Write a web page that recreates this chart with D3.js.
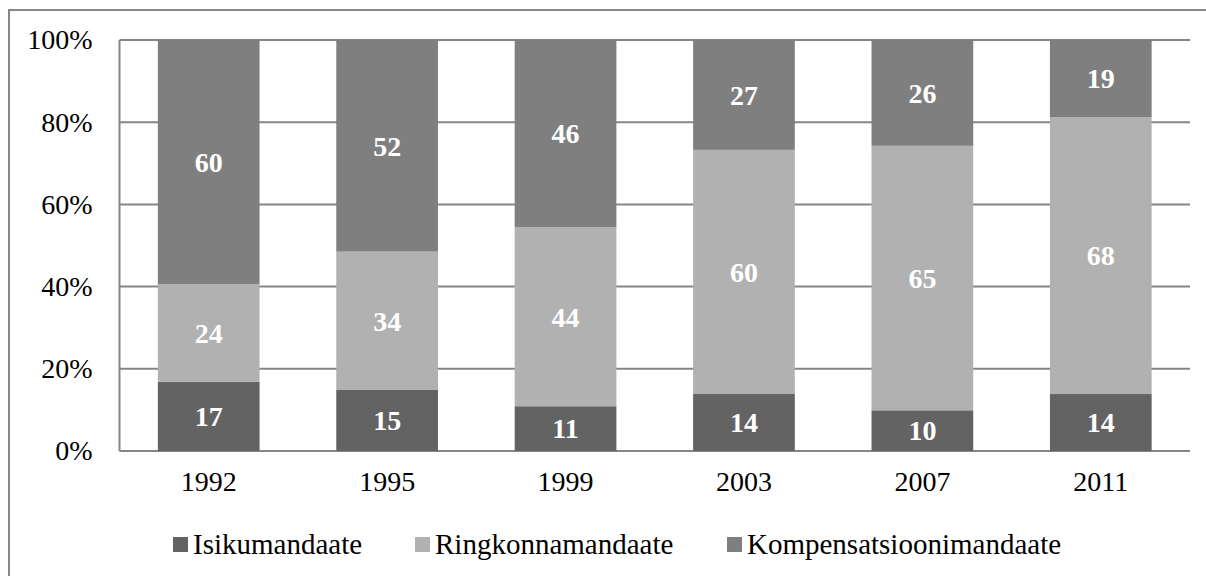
<!DOCTYPE html>
<html>
<head>
<meta charset="utf-8">
<script src="https://cdn.jsdelivr.net/npm/d3@7"></script>
<style>
  body { margin: 0; background: #fff; }
  svg text { font-family: "Liberation Serif", "Times New Roman", serif; }
</style>
</head>
<body>
<div id="chart"></div>
<script>
// chart data
var years = ["1992", "1995", "1999", "2003", "2007", "2011"];
var seriesNames = ["Isikumandaate", "Ringkonnamandaate", "Kompensatsioonimandaate"];
var isikumandaate = [17, 15, 11, 14, 10, 14];
var ringkonnamandaate = [24, 34, 44, 60, 65, 68];
var kompensatsioonimandaate = [60, 52, 46, 27, 26, 19];
var yTicks = [0, 0.2, 0.4, 0.6, 0.8, 1];

var colors = ["#636363", "#b1b1b1", "#7f7f7f"];
var gridColor = "#868686";

var width = 1206;
var height = 576;
var plot = { left: 119.5, right: 1190, top: 40, bottom: 451 };

var svg = d3.select("#chart").append("svg")
    .attr("width", width)
    .attr("height", height);

// outer frame (right and bottom sides fall outside the picture)
svg.append("rect")
    .attr("x", 9).attr("y", 10)
    .attr("width", 1210).attr("height", 580)
    .attr("fill", "none")
    .attr("stroke", gridColor)
    .attr("stroke-width", 2);

var x = d3.scaleBand()
    .domain(years)
    .range([plot.left, plot.right])
    .paddingInner(0.43)
    .paddingOuter(0.215);

var y = d3.scaleLinear()
    .domain([0, 1])
    .range([plot.bottom, plot.top]);

// gridlines
svg.append("g")
  .selectAll("line")
  .data(yTicks)
  .enter().append("line")
    .attr("x1", plot.left)
    .attr("x2", plot.right)
    .attr("y1", function(d) { return y(d); })
    .attr("y2", function(d) { return y(d); })
    .attr("stroke", gridColor)
    .attr("stroke-width", 2);

// build rows for the stack
var rows = years.map(function(yr, i) {
  var total = isikumandaate[i] + ringkonnamandaate[i] + kompensatsioonimandaate[i];
  return {
    year: yr,
    total: total,
    Isikumandaate: isikumandaate[i],
    Ringkonnamandaate: ringkonnamandaate[i],
    Kompensatsioonimandaate: kompensatsioonimandaate[i]
  };
});

var stacked = d3.stack()
    .keys(seriesNames)
    .value(function(d, key) { return d[key] / d.total; })(rows);

var layers = svg.append("g")
  .selectAll("g")
  .data(stacked)
  .enter().append("g")
    .attr("fill", function(d, i) { return colors[i]; });

layers.selectAll("rect")
  .data(function(d) { return d; })
  .enter().append("rect")
    .attr("x", function(d) { return x(d.data.year); })
    .attr("width", x.bandwidth())
    .attr("y", function(d) { return y(d[1]); })
    .attr("height", function(d) { return y(d[0]) - y(d[1]); });

// value labels
stacked.forEach(function(layer) {
  svg.append("g")
    .selectAll("text")
    .data(layer)
    .enter().append("text")
      .attr("x", function(d) { return x(d.data.year) + x.bandwidth() / 2; })
      .attr("y", function(d) { return (y(d[0]) + y(d[1])) / 2; })
      .attr("dy", "0.35em")
      .attr("text-anchor", "middle")
      .attr("fill", "#fff")
      .attr("font-weight", "bold")
      .attr("font-size", "28px")
      .text(function(d) { return d.data[layer.key]; });
});

// left axis line
svg.append("line")
    .attr("x1", plot.left).attr("x2", plot.left)
    .attr("y1", plot.top).attr("y2", plot.bottom)
    .attr("stroke", gridColor)
    .attr("stroke-width", 2);

// y axis labels
var yAxis = svg.append("g")
    .attr("transform", "translate(" + plot.left + ",0)")
    .call(d3.axisLeft(y).tickValues(yTicks).tickFormat(d3.format(".0%")).tickSize(0).tickPadding(27));
yAxis.select(".domain").remove();
yAxis.selectAll("text")
    .attr("font-size", "28px")
    .attr("fill", "#000");

// x axis labels
var xAxis = svg.append("g")
    .attr("transform", "translate(0," + plot.bottom + ")")
    .call(d3.axisBottom(x).tickSize(0).tickPadding(20));
xAxis.select(".domain").remove();
xAxis.selectAll("text")
    .attr("font-size", "28px")
    .attr("fill", "#000");

// legend
var legendX = [173, 415, 727];
var legend = svg.append("g")
  .selectAll("g")
  .data(seriesNames)
  .enter().append("g")
    .attr("transform", function(d, i) { return "translate(" + legendX[i] + ",537)"; });

legend.append("rect")
    .attr("width", 15)
    .attr("height", 15)
    .attr("fill", function(d, i) { return colors[i]; });

legend.append("text")
    .attr("x", 20)
    .attr("y", 17)
    .attr("font-size", "29px")
    .attr("fill", "#000")
    .text(function(d) { return d; });
</script>
</body>
</html>
